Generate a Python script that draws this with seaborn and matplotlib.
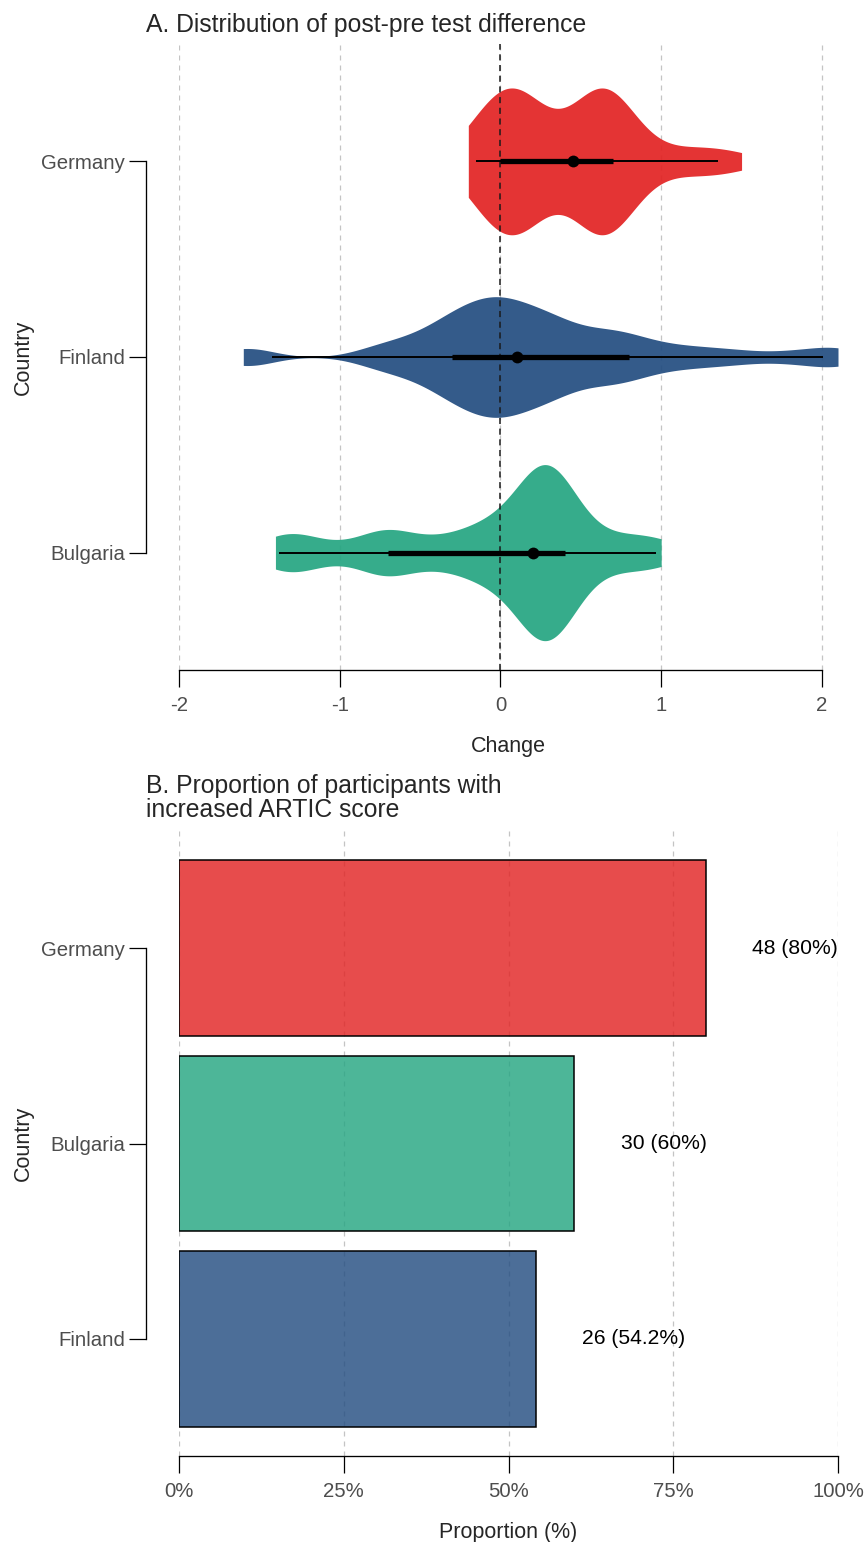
import numpy as np
import pandas as pd
import matplotlib
matplotlib.use("Agg")
import matplotlib.pyplot as plt
from matplotlib.colors import to_rgba
from matplotlib.ticker import PercentFormatter
import seaborn as sns

# ---------------- data ----------------
countries = ["Germany", "Finland", "Bulgaria"]          # order in panel A
bar_order = ["Germany", "Bulgaria", "Finland"]          # order in panel B

# post - pre change in ARTIC score per participant
germany_change = [
    -0.2, -0.2, -0.1, -0.1, -0.1, -0.1, -0.1, 0.0, 0.0, 0.0, 0.0, 0.0,
    0.05, 0.05, 0.05, 0.1, 0.1, 0.1, 0.1, 0.15, 0.15, 0.15, 0.2, 0.2, 0.2,
    0.25, 0.25, 0.3, 0.45, 0.45, 0.45, 0.5, 0.5, 0.55, 0.55,
    0.6, 0.6, 0.6, 0.6, 0.65, 0.65, 0.65, 0.65,
    0.7, 0.7, 0.7, 0.7, 0.7, 0.7, 0.7,
    0.8, 0.8, 0.85, 0.9, 1.0, 1.15, 1.2, 1.3, 1.4, 1.5,
]
finland_change = [
    -1.6, -1.55, -0.8, -0.7, -0.6, -0.5, -0.45, -0.4, -0.3, -0.3, -0.3,
    -0.25, -0.2, -0.2, -0.15, -0.1, -0.1, -0.05, -0.05, 0.0, 0.0, 0.0,
    0.05, 0.1, 0.1, 0.15, 0.2, 0.2, 0.25, 0.3, 0.3, 0.35, 0.4, 0.45, 0.5,
    0.6, 0.65, 0.7, 0.75, 0.8, 0.9, 1.0, 1.15, 1.3, 1.5, 1.8, 2.05, 2.1,
]
bulgaria_change = [
    -1.4, -1.4, -1.3, -1.25, -1.2, -1.0, -0.8, -0.75, -0.7, -0.7,
    -0.65, -0.5, -0.4, -0.3, -0.2, -0.15, -0.1, -0.05, 0.0, 0.0,
    0.1, 0.15, 0.15, 0.2, 0.2, 0.2, 0.25, 0.25, 0.25, 0.25, 0.25,
    0.3, 0.3, 0.3, 0.3, 0.3, 0.35, 0.35, 0.35, 0.4, 0.4, 0.4, 0.45, 0.5,
    0.6, 0.7, 0.8, 0.85, 1.0, 1.0,
]

change_ticks = [-2, -1, 0, 1, 2]
prop_ticks = [0, 0.25, 0.5, 0.75, 1.0]

palette = {"Germany": "#E22424", "Finland": "#244E81", "Bulgaria": "#26A682"}

changes = {"Germany": germany_change, "Finland": finland_change,
           "Bulgaria": bulgaria_change}

long_df = pd.DataFrame({
    "Country": np.concatenate([[c] * len(changes[c]) for c in countries]),
    "Change": np.concatenate([changes[c] for c in countries]),
})

bar_df = pd.DataFrame({
    "Country": bar_order,
    "n": [int(np.sum(np.asarray(changes[c]) > 0)) for c in bar_order],
    "total": [len(changes[c]) for c in bar_order],
})
bar_df["Proportion"] = bar_df["n"] / bar_df["total"]

# ---------------- style ----------------
sns.set_style("ticks")
plt.rcParams["font.family"] = ["Liberation Sans", "DejaVu Sans"]
plt.rcParams["axes.unicode_minus"] = False

TICK_COLOR = "#4D4D4D"
GRID_KW = dict(color="#C4C4C4", lw=0.9, ls=(0, (4, 4)))
BANDWIDTH = 0.16


def fixed_bandwidth(kde):
    # same kernel bandwidth (in data units) for every country
    return BANDWIDTH / np.std(kde.dataset, ddof=1)


def style_axis(ax):
    ax.tick_params(axis="both", length=12.5, width=0.9, color="black",
                   labelcolor=TICK_COLOR, labelsize=14.7)
    ax.tick_params(axis="x", pad=6.5)
    ax.tick_params(axis="y", pad=2.5)
    for s in ("left", "bottom"):
        ax.spines[s].set_linewidth(0.95)
        ax.spines[s].set_color("black")
    sns.despine(ax=ax, offset={"left": 24}, trim=True)


W, H = 867, 1542
fig = plt.figure(figsize=(W / 100, H / 100), dpi=100)
axA = fig.add_axes([179 / W, 1 - 670 / H, 659 / W, 626 / H])
axB = fig.add_axes([179 / W, 1 - 1456 / H, 659 / W, 625 / H])

# ---------------- panel A: violins ----------------
sns.violinplot(
    data=long_df, x="Change", y="Country", hue="Country",
    order=countries, hue_order=countries, palette=palette, legend=False,
    inner=None, cut=0, density_norm="area", common_norm=True,
    bw_method=fixed_bandwidth, width=0.9, linewidth=0, saturation=1,
    gridsize=600, ax=axA,
)
for coll in axA.collections:
    coll.set_alpha(0.93)
    coll.set_zorder(2)

axA.axvline(0, color="#1A1A1A", lw=1.1, ls=(0, (4, 3)), zorder=3)

# median with 66% (thick) and 95% (thin) intervals
for i, c in enumerate(countries):
    v = np.asarray(changes[c])
    lo95, lo66, med, hi66, hi95 = np.quantile(v, [0.025, 0.17, 0.5, 0.83, 0.975])
    axA.plot([lo95, hi95], [i, i], color="black", lw=1.4,
             solid_capstyle="butt", zorder=4)
    axA.plot([lo66, hi66], [i, i], color="black", lw=3.8,
             solid_capstyle="butt", zorder=4)
    axA.plot(med, i, "o", color="black", ms=8.5, mec="none", zorder=5)

axA.set_xlim(-2, 2.1)
axA.set_xticks(change_ticks)
axA.set_xticklabels([str(t) for t in change_ticks])
axA.set_ylim(2.6, -0.6)
axA.set_yticks(range(len(countries)))
axA.set_yticklabels(countries)
axA.grid(axis="x", **GRID_KW)
axA.grid(axis="y", visible=False)
axA.set_axisbelow(True)
axA.set_xlabel("Change", fontsize=15.5, labelpad=15)
axA.set_ylabel("Country", fontsize=15.5, labelpad=5)
style_axis(axA)

# ---------------- panel B: bars ----------------
sns.barplot(
    data=bar_df, x="Proportion", y="Country", hue="Country",
    order=bar_order, hue_order=bar_order, palette=palette, legend=False,
    width=0.9, edgecolor="black", linewidth=1.1, saturation=1, ax=axB,
)
for patch in axB.patches:
    patch.set_facecolor(to_rgba(patch.get_facecolor(), 0.82))

for i, row in bar_df.iterrows():
    pct = f"{round(row['Proportion'] * 100, 1):g}"
    axB.text(row["Proportion"] + 0.07, i, f"{row['n']} ({pct}%)",
             ha="left", va="center", fontsize=15.2, color="black")

axB.set_xlim(0, 1)
axB.set_xticks(prop_ticks)
axB.xaxis.set_major_formatter(PercentFormatter(1.0, decimals=0))
axB.set_ylim(2.6, -0.6)
axB.grid(axis="x", **GRID_KW)
axB.grid(axis="y", visible=False)
axB.set_axisbelow(True)
axB.set_xlabel("Proportion (%)", fontsize=15.5, labelpad=15)
axB.set_ylabel("Country", fontsize=15.5, labelpad=5)
style_axis(axB)

# ---------------- titles ----------------
fig.text(146 / W, 1 - 31.7 / H, "A. Distribution of post-pre test difference",
         fontsize=17.8, ha="left", va="baseline")
fig.text(146 / W, 1 - 816.7 / H,
         "B. Proportion of participants with\nincreased ARTIC score",
         fontsize=17.8, ha="left", va="baseline", linespacing=1.0)

fig.savefig("out.png", dpi=100)
